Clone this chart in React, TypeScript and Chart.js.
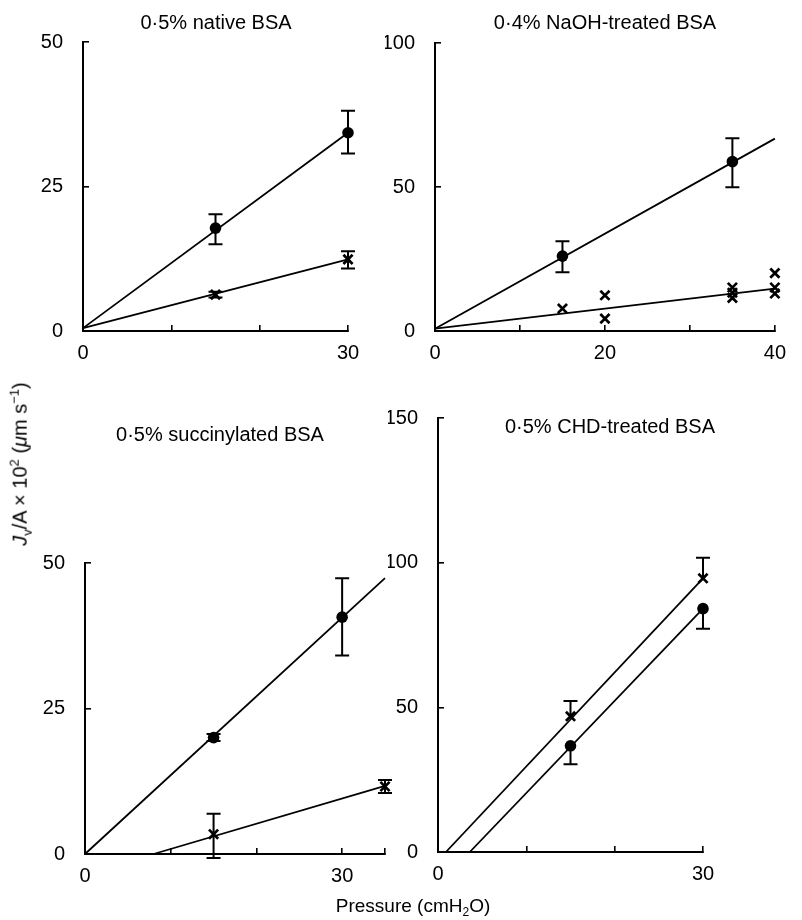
import React, { useEffect, useRef } from 'react';
import { Chart, registerables } from 'chart.js';
Chart.register(...registerables);

const FONT = "'Liberation Sans', Arial, Helvetica, sans-serif";

// ---------- Panel 1: 0·5% native BSA ----------
const nativeTitle = '0·5% native BSA';
const nativeX = [15, 30];
const nativeCircle = [17.8, 34.3];
const nativeCircleLow = [15.0, 30.7];
const nativeCircleHigh = [20.2, 38.1];
const nativeCross = [6.3, 12.4];
const nativeCrossLow = [5.8, 10.8];
const nativeCrossHigh = [6.8, 13.8];
const nativeFitX = [0, 30];
const nativeCircleFit = [0.5, 34.3];
const nativeCrossFit = [0.5, 12.4];
const nativeXTicks = [0, 10, 20, 30];
const nativeXLabels = [0, 30];
const nativeYTicks = [0, 25, 50];

// ---------- Panel 2: 0·4% NaOH-treated BSA ----------
const naohTitle = '0·4% NaOH-treated BSA';
const naohCircleX = [15, 35];
const naohCircle = [26.0, 58.8];
const naohCircleLow = [20.4, 49.9];
const naohCircleHigh = [31.2, 66.9];
const naohCrossX = [15, 20, 20, 35, 35, 35, 40, 40, 40];
const naohCross = [7.8, 12.4, 4.3, 15.1, 13.3, 11.5, 20.1, 15.1, 13.0];
const naohFitX = [0, 40];
const naohCircleFit = [0.8, 66.8];
const naohCrossFit = [0.8, 14.7];
const naohXTicks = [0, 10, 20, 30, 40];
const naohXLabels = [0, 20, 40];
const naohYTicks = [0, 50, 100];

// ---------- Panel 3: 0·5% succinylated BSA ----------
const succTitle = '0·5% succinylated BSA';
const succCircleX = [15, 30];
const succCircle = [20.0, 40.7];
const succCircleLow = [19.4, 34.1];
const succCircleHigh = [20.6, 47.4];
const succCrossX = [15, 35];
const succCross = [3.4, 11.6];
const succCrossLow = [-0.7, 10.5];
const succCrossHigh = [6.9, 12.7];
const succCircleFitX = [0, 35];
const succCircleFit = [0, 47.4];
const succCrossFitX = [8, 35];
const succCrossFit = [0, 11.7];
const succXTicks = [0, 10, 20, 30, 35];
const succXLabels = [0, 30];
const succYTicks = [0, 25, 50];

// ---------- Panel 4: 0·5% CHD-treated BSA ----------
const chdTitle = '0·5% CHD-treated BSA';
const chdX = [15, 30];
const chdCross = [46.9, 94.6];
const chdCrossHigh = [52.2, 101.7];
const chdCircle = [36.7, 84.1];
const chdCircleLow = [30.3, 77.2];
const chdCrossFitX = [0.9, 30];
const chdCrossFit = [0, 94.6];
const chdCircleFitX = [3.6, 30];
const chdCircleFit = [0, 84.1];
const chdXTicks = [0, 10, 20, 30];
const chdXLabels = [0, 30];
const chdYTicks = [0, 50, 100, 150];

const pts = (xs: number[], ys: number[]) => xs.map((x, i) => ({ x, y: ys[i] }));

const fitLine = (xs: number[], ys: number[]) => ({
  data: pts(xs, ys),
  borderColor: '#000',
  borderWidth: 1.8,
  pointRadius: 0,
  showLine: true,
  fill: false,
  clip: false as any,
});

const circles = (xs: number[], ys: number[], lo?: (number | null)[], hi?: (number | null)[]) => ({
  data: pts(xs, ys),
  showLine: false,
  pointStyle: 'circle',
  pointRadius: 5.8,
  backgroundColor: '#000',
  borderColor: '#000',
  borderWidth: 0,
  clip: false as any,
  errLow: lo,
  errHigh: hi,
});

const crosses = (xs: number[], ys: number[], lo?: (number | null)[], hi?: (number | null)[]) => ({
  data: pts(xs, ys),
  showLine: false,
  pointStyle: 'crossRot',
  pointRadius: 6.5,
  backgroundColor: '#000',
  borderColor: '#000',
  borderWidth: 2.7,
  clip: false as any,
  errLow: lo,
  errHigh: hi,
});

const errorBarPlugin = {
  id: 'errorBars',
  afterDatasetsDraw(chart: any) {
    const ctx = chart.ctx;
    const xs = chart.scales.x;
    const ys = chart.scales.y;
    ctx.save();
    ctx.strokeStyle = '#000';
    ctx.lineWidth = 2;
    chart.data.datasets.forEach((ds: any) => {
      if (!ds.errLow && !ds.errHigh) return;
      ds.data.forEach((p: any, j: number) => {
        const lo = ds.errLow ? ds.errLow[j] : null;
        const hi = ds.errHigh ? ds.errHigh[j] : null;
        if (lo == null && hi == null) return;
        const px = xs.getPixelForValue(p.x);
        const py = ys.getPixelForValue(p.y);
        const top = hi != null ? ys.getPixelForValue(hi) : py;
        const bot = lo != null ? ys.getPixelForValue(lo) : py;
        ctx.beginPath();
        ctx.moveTo(px, top);
        ctx.lineTo(px, bot);
        if (hi != null) { ctx.moveTo(px - 7, top); ctx.lineTo(px + 7, top); }
        if (lo != null) { ctx.moveTo(px - 7, bot); ctx.lineTo(px + 7, bot); }
        ctx.stroke();
      });
    });
    ctx.restore();
  },
};

const titlePlugin = {
  id: 'panelTitle',
  afterDraw(chart: any, _args: any, opts: any) {
    const ctx = chart.ctx;
    ctx.save();
    ctx.font = `20px ${FONT}`;
    ctx.fillStyle = '#000';
    ctx.textAlign = 'center';
    ctx.textBaseline = 'middle';
    ctx.fillText(opts.text, opts.x, opts.y);
    ctx.restore();
  },
};

type Rect = { x: number; y: number; w: number; h: number };
type Area = { l: number; t: number; r: number; b: number };
type PanelCfg = {
  title: string;
  titleAt: [number, number];
  canvas: Rect;
  area: Area;
  xMax: number;
  yMax: number;
  xTicks: number[];
  xLabels: number[];
  yTicks: number[];
  datasets: any[];
};

const panels: PanelCfg[] = [
  {
    title: nativeTitle,
    titleAt: [216, 23],
    canvas: { x: 0, y: 0, w: 380, h: 380 },
    area: { l: 83, t: 42, r: 348, b: 331 },
    xMax: 30, yMax: 50,
    xTicks: nativeXTicks, xLabels: nativeXLabels, yTicks: nativeYTicks,
    datasets: [
      fitLine(nativeFitX, nativeCircleFit),
      fitLine(nativeFitX, nativeCrossFit),
      circles(nativeX, nativeCircle, nativeCircleLow, nativeCircleHigh),
      crosses(nativeX, nativeCross, nativeCrossLow, nativeCrossHigh),
    ],
  },
  {
    title: naohTitle,
    titleAt: [605, 23],
    canvas: { x: 360, y: 0, w: 442, h: 380 },
    area: { l: 435, t: 43, r: 790, b: 331 },
    xMax: 40, yMax: 100,
    xTicks: naohXTicks, xLabels: naohXLabels, yTicks: naohYTicks,
    datasets: [
      fitLine(naohFitX, naohCircleFit),
      fitLine(naohFitX, naohCrossFit),
      circles(naohCircleX, naohCircle, naohCircleLow, naohCircleHigh),
      crosses(naohCrossX, naohCross),
    ],
  },
  {
    title: succTitle,
    titleAt: [220, 435],
    canvas: { x: 0, y: 380, w: 401, h: 520 },
    area: { l: 85, t: 563, r: 393, b: 854 },
    xMax: 35, yMax: 50,
    xTicks: succXTicks, xLabels: succXLabels, yTicks: succYTicks,
    datasets: [
      fitLine(succCircleFitX, succCircleFit),
      fitLine(succCrossFitX, succCrossFit),
      circles(succCircleX, succCircle, succCircleLow, succCircleHigh),
      crosses(succCrossX, succCross, succCrossLow, succCrossHigh),
    ],
  },
  {
    title: chdTitle,
    titleAt: [610, 427],
    canvas: { x: 360, y: 380, w: 442, h: 520 },
    area: { l: 438, t: 417, r: 703, b: 852 },
    xMax: 30, yMax: 150,
    xTicks: chdXTicks, xLabels: chdXLabels, yTicks: chdYTicks,
    datasets: [
      fitLine(chdCrossFitX, chdCrossFit),
      fitLine(chdCircleFitX, chdCircleFit),
      crosses(chdX, chdCross, undefined, chdCrossHigh),
      circles(chdX, chdCircle, chdCircleLow, undefined),
    ],
  },
];

const Y_AXIS_W = 50;
const X_AXIS_H = 40;

function Panel({ cfg }: { cfg: PanelCfg }) {
  const ref = useRef<HTMLCanvasElement>(null);
  useEffect(() => {
    const c = ref.current;
    if (!c) return;
    const { canvas: cv, area } = cfg;
    const padding = {
      left: area.l - cv.x - Y_AXIS_W,
      top: area.t - cv.y,
      right: cv.x + cv.w - area.r,
      bottom: cv.y + cv.h - area.b - X_AXIS_H,
    };
    const gridOpts = {
      display: true,
      drawOnChartArea: false,
      drawTicks: true,
      tickLength: -6,
      color: '#000',
      lineWidth: 1.6,
    };
    const borderOpts = { display: true, color: '#000', width: 2 };
    const chart = new Chart(c, {
      type: 'line',
      data: { datasets: cfg.datasets },
      options: {
        animation: false,
        responsive: false,
        devicePixelRatio: 1,
        layout: { padding, autoPadding: false },
        plugins: {
          legend: { display: false },
          tooltip: { enabled: false },
          panelTitle: { text: cfg.title, x: cfg.titleAt[0] - cv.x, y: cfg.titleAt[1] - cv.y },
        } as any,
        scales: {
          x: {
            type: 'linear',
            position: 'bottom',
            min: 0,
            max: cfg.xMax,
            grid: gridOpts,
            border: borderOpts,
            afterBuildTicks: (s: any) => { s.ticks = cfg.xTicks.map((v) => ({ value: v })); },
            afterFit: (s: any) => { s.height = X_AXIS_H; },
            ticks: {
              autoSkip: false,
              maxRotation: 0,
              padding: 16,
              color: '#000',
              font: { family: FONT, size: 20 },
              callback: (v: any) => (cfg.xLabels.includes(Number(v)) ? String(v) : ''),
            },
          },
          y: {
            type: 'linear',
            position: 'left',
            min: 0,
            max: cfg.yMax,
            grid: gridOpts,
            border: borderOpts,
            afterBuildTicks: (s: any) => { s.ticks = cfg.yTicks.map((v) => ({ value: v })); },
            afterFit: (s: any) => { s.width = Y_AXIS_W; },
            ticks: {
              autoSkip: false,
              padding: 26,
              color: '#000',
              font: { family: FONT, size: 20 },
              callback: (v: any) => String(v),
            },
          },
        },
      } as any,
      plugins: [errorBarPlugin, titlePlugin],
    });
    return () => chart.destroy();
  }, [cfg]);
  return (
    <canvas
      ref={ref}
      width={cfg.canvas.w}
      height={cfg.canvas.h}
      style={{ position: 'absolute', left: cfg.canvas.x, top: cfg.canvas.y, width: cfg.canvas.w, height: cfg.canvas.h }}
    />
  );
}

export default function App() {
  return (
    <div
      style={{
        position: 'absolute',
        left: 0,
        top: 0,
        width: 802,
        height: 920,
        background: '#fff',
        fontFamily: FONT,
        color: '#000',
        overflow: 'hidden',
      }}
    >
      {panels.map((p, i) => (
        <Panel key={i} cfg={p} />
      ))}
      <div
        style={{
          position: 'absolute',
          left: 21,
          top: 464,
          transform: 'translate(-50%, -50%) rotate(-90deg)',
          whiteSpace: 'nowrap',
          fontSize: 20,
          lineHeight: '22px',
        }}
      >
        <i>J</i>
        <sub style={{ fontSize: 13 }}>v</sub>/A × 10<sup style={{ fontSize: 13 }}>2</sup> (<i>μ</i>m s
        <sup style={{ fontSize: 13 }}>−1</sup>)
      </div>
      <div
        style={{
          position: 'absolute',
          left: 413,
          top: 909,
          transform: 'translate(-50%, -50%)',
          whiteSpace: 'nowrap',
          fontSize: 19,
          lineHeight: '22px',
        }}
      >
        Pressure (cmH<sub style={{ fontSize: 12 }}>2</sub>O)
      </div>
    </div>
  );
}
